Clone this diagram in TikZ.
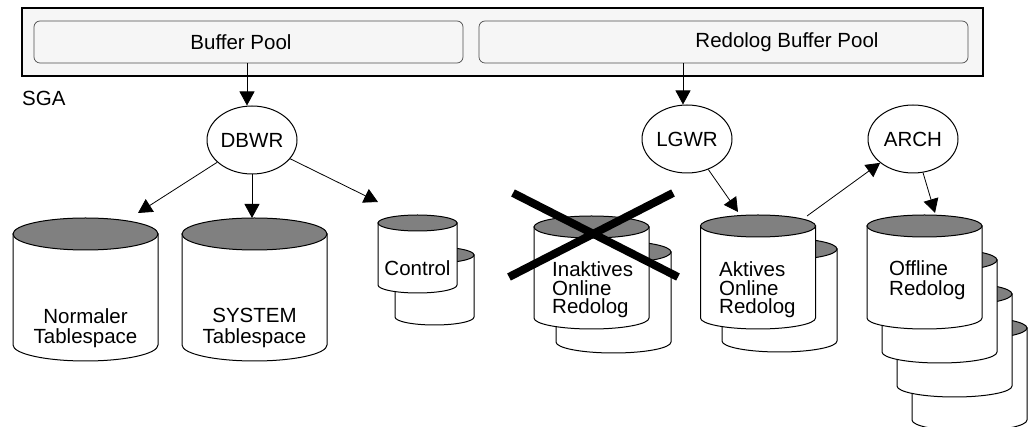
\documentclass[tikz,border=0pt]{standalone}
\usepackage{fontspec}
\setmainfont{Liberation Sans}
\usetikzlibrary{shapes.geometric,arrows.meta}
\definecolor{cylgray}{HTML}{808080}
\definecolor{sgafill}{HTML}{F6F6F6}
\tikzset{
  cylbody/.style={fill=white, draw=black, line width=1pt},
  cyltop/.style={fill=cylgray, draw=black, line width=1pt},
  proc/.style={ellipse, draw=black, line width=1pt, fill=white, minimum width=90pt, minimum height=68pt, inner sep=0pt, font=\fontsize{20.5}{20}\selectfont},
  arr/.style={-{Triangle[width=15pt,length=14pt]}, line width=0.8pt},
  lbl/.style={font=\fontsize{20.5}{20.5}\selectfont, align=left, inner sep=0pt},
  lblt/.style={font=\fontsize{20.5}{18.5}\selectfont, align=left, inner sep=0pt},
  sgabox/.style={draw=black, line width=2.5pt, fill=sgafill, minimum width=961pt, minimum height=68pt, inner sep=0pt},
  poolbox/.style={draw=black!70, line width=0.7pt, rounded corners=6pt, fill=sgafill, minimum height=42pt, inner sep=0pt},
  crossline/.style={line width=8pt, line cap=butt}
}
\newcommand\mycyl[5]{%
  \filldraw[cylbody] ({#1-#3},#2) -- ({#1-#3},#5) arc[start angle=180,end angle=0,x radius=#3,y radius=#4] -- ({#1+#3},#2) -- cycle;
  \filldraw[cyltop] (#1,#2) ellipse[x radius=#3,y radius=#4];}
\begin{document}
\begin{tikzpicture}[x=1pt,y=-1pt]
\useasboundingbox (0,0) rectangle (1034,427);
% SGA
\node[sgabox] (sga) at (502.5,42) {};
\node[poolbox, minimum width=429pt] (bp) at (248.5,42) {};
\node[poolbox, minimum width=489pt] (rbp) at (723.5,42) {};
\node[lbl] (bpt) at (241,42) {Buffer Pool};
\node[lbl] (rbpt) at (787,42) {Redolog Buffer Pool};
\node[lbl, anchor=west] (sgat) at (22,98.5) {SGA};
% processes
\node[proc] (dbwr) at (252,140) {DBWR};
\node[proc] (lgwr) at (687,139) {LGWR};
\node[proc] (arch) at (913,139) {ARCH};
% cylinders
\mycyl{85.5}{234}{72.5}{16}{345}
\mycyl{254.5}{234}{72.5}{16}{345}
\mycyl{434.5}{255}{39.5}{8}{317}
\mycyl{417.5}{223}{39.5}{8}{285}
\mycyl{613.5}{252}{57.5}{11}{342}
\mycyl{591.5}{227}{57.5}{11}{318}
\mycyl{779.5}{249}{57.5}{11}{341}
\mycyl{758}{226}{57.5}{11}{318}
\mycyl{969.5}{328}{57.5}{11}{420}
\mycyl{954.5}{294}{57.5}{11}{386}
\mycyl{939.5}{260}{57.5}{11}{352}
\mycyl{924.5}{226}{57.5}{11}{318}
% labels
\node[lbl, align=center] (nts) at (85.5,328) {Normaler\\Tablespace};
\node[lbl, align=center] (sys) at (254.5,328) {SYSTEM\\Tablespace};
\node[lbl] (ctl) at (417.5,268) {Control};
\node[lblt, anchor=west] (inak) at (552,290) {Inaktives\\Online\\Redolog};
\node[lblt, anchor=west] (akt) at (719,290) {Aktives\\Online\\Redolog};
\node[lbl, anchor=west] (off) at (889,280) {Offline\\Redolog};
% cross
\draw[crossline] (513,193) -- (678,277);
\draw[crossline] (509,277) -- (673,193);
% connector end points
\coordinate (dbwr-in) at ([xshift=-5pt]dbwr.north);
\coordinate (lgwr-in) at ([xshift=-4pt]lgwr.north);
\coordinate (nt-in) at (138,213);
\coordinate (sys-in) at (252,218);
\coordinate (ctl-in) at (378,202);
\coordinate (akt-in) at (738,212);
\coordinate (akt-out) at (807,216);
\coordinate (off-in) at (935,213);
% connectors
\draw[arr] (bp.south -| dbwr-in) -- (dbwr-in);
\draw[arr] (rbp.south -| lgwr-in) -- (lgwr-in);
\draw[arr] (dbwr) -- (nt-in);
\draw[arr] (dbwr.south) -- (sys-in);
\draw[arr] (dbwr) -- (ctl-in);
\draw[arr] (lgwr) -- (akt-in);
\draw[arr] (akt-out) -- (arch);
\draw[arr] (arch) -- (off-in);
\end{tikzpicture}
\end{document}
